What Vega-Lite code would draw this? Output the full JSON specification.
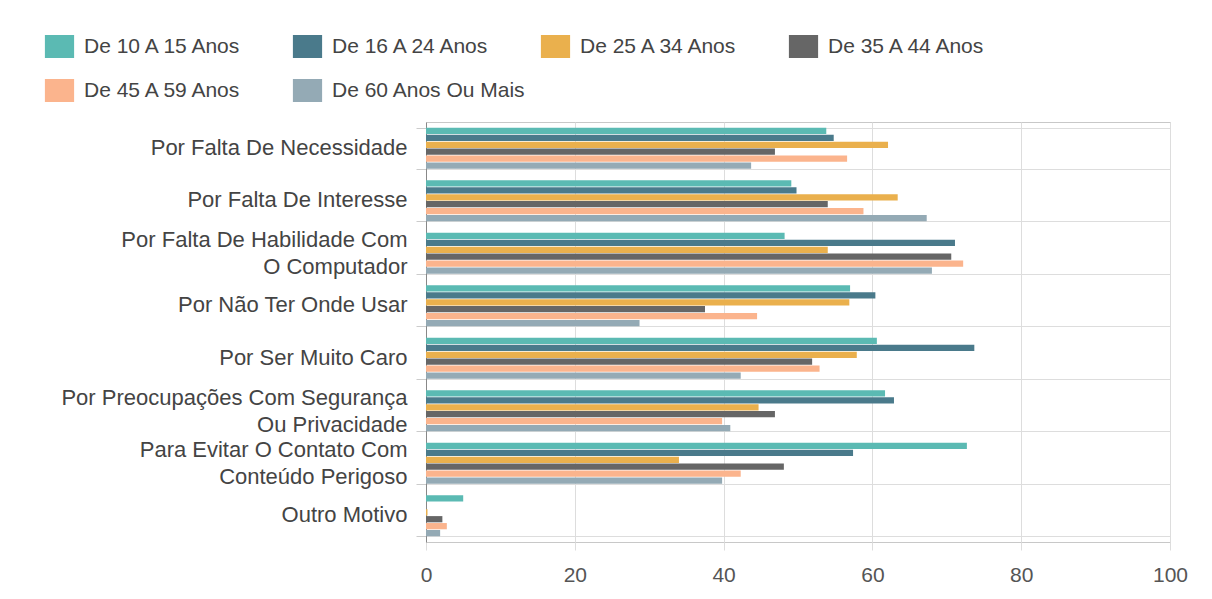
{
  "$schema": "https://vega.github.io/schema/vega-lite/v6.json",
  "width": 744,
  "height": 420,
  "autosize": {"type": "none"},
  "padding": {"left": 426, "top": 122, "right": 42, "bottom": 57},
  "background": "white",
  "config": {
    "font": "Liberation Sans",
    "view": {"stroke": "#c8c8c8"}
  },
  "data": {
    "values": [
      {"motivo": "Por Falta De Necessidade", "faixa": "De 10 A 15 Anos", "valor": 53.8},
      {"motivo": "Por Falta De Necessidade", "faixa": "De 16 A 24 Anos", "valor": 54.8},
      {"motivo": "Por Falta De Necessidade", "faixa": "De 25 A 34 Anos", "valor": 62.1},
      {"motivo": "Por Falta De Necessidade", "faixa": "De 35 A 44 Anos", "valor": 46.9},
      {"motivo": "Por Falta De Necessidade", "faixa": "De 45 A 59 Anos", "valor": 56.6},
      {"motivo": "Por Falta De Necessidade", "faixa": "De 60 Anos Ou Mais", "valor": 43.7},
      {"motivo": "Por Falta De Interesse", "faixa": "De 10 A 15 Anos", "valor": 49.1},
      {"motivo": "Por Falta De Interesse", "faixa": "De 16 A 24 Anos", "valor": 49.8},
      {"motivo": "Por Falta De Interesse", "faixa": "De 25 A 34 Anos", "valor": 63.4},
      {"motivo": "Por Falta De Interesse", "faixa": "De 35 A 44 Anos", "valor": 54.0},
      {"motivo": "Por Falta De Interesse", "faixa": "De 45 A 59 Anos", "valor": 58.8},
      {"motivo": "Por Falta De Interesse", "faixa": "De 60 Anos Ou Mais", "valor": 67.3},
      {"motivo": "Por Falta De Habilidade Com O Computador", "faixa": "De 10 A 15 Anos", "valor": 48.2},
      {"motivo": "Por Falta De Habilidade Com O Computador", "faixa": "De 16 A 24 Anos", "valor": 71.1},
      {"motivo": "Por Falta De Habilidade Com O Computador", "faixa": "De 25 A 34 Anos", "valor": 54.0},
      {"motivo": "Por Falta De Habilidade Com O Computador", "faixa": "De 35 A 44 Anos", "valor": 70.6},
      {"motivo": "Por Falta De Habilidade Com O Computador", "faixa": "De 45 A 59 Anos", "valor": 72.2},
      {"motivo": "Por Falta De Habilidade Com O Computador", "faixa": "De 60 Anos Ou Mais", "valor": 68.0},
      {"motivo": "Por Não Ter Onde Usar", "faixa": "De 10 A 15 Anos", "valor": 57.0},
      {"motivo": "Por Não Ter Onde Usar", "faixa": "De 16 A 24 Anos", "valor": 60.4},
      {"motivo": "Por Não Ter Onde Usar", "faixa": "De 25 A 34 Anos", "valor": 56.9},
      {"motivo": "Por Não Ter Onde Usar", "faixa": "De 35 A 44 Anos", "valor": 37.5},
      {"motivo": "Por Não Ter Onde Usar", "faixa": "De 45 A 59 Anos", "valor": 44.5},
      {"motivo": "Por Não Ter Onde Usar", "faixa": "De 60 Anos Ou Mais", "valor": 28.7},
      {"motivo": "Por Ser Muito Caro", "faixa": "De 10 A 15 Anos", "valor": 60.6},
      {"motivo": "Por Ser Muito Caro", "faixa": "De 16 A 24 Anos", "valor": 73.7},
      {"motivo": "Por Ser Muito Caro", "faixa": "De 25 A 34 Anos", "valor": 57.9},
      {"motivo": "Por Ser Muito Caro", "faixa": "De 35 A 44 Anos", "valor": 51.9},
      {"motivo": "Por Ser Muito Caro", "faixa": "De 45 A 59 Anos", "valor": 52.9},
      {"motivo": "Por Ser Muito Caro", "faixa": "De 60 Anos Ou Mais", "valor": 42.3},
      {"motivo": "Por Preocupações Com Segurança Ou Privacidade", "faixa": "De 10 A 15 Anos", "valor": 61.7},
      {"motivo": "Por Preocupações Com Segurança Ou Privacidade", "faixa": "De 16 A 24 Anos", "valor": 62.9},
      {"motivo": "Por Preocupações Com Segurança Ou Privacidade", "faixa": "De 25 A 34 Anos", "valor": 44.7},
      {"motivo": "Por Preocupações Com Segurança Ou Privacidade", "faixa": "De 35 A 44 Anos", "valor": 46.9},
      {"motivo": "Por Preocupações Com Segurança Ou Privacidade", "faixa": "De 45 A 59 Anos", "valor": 39.8},
      {"motivo": "Por Preocupações Com Segurança Ou Privacidade", "faixa": "De 60 Anos Ou Mais", "valor": 40.9},
      {"motivo": "Para Evitar O Contato Com Conteúdo Perigoso", "faixa": "De 10 A 15 Anos", "valor": 72.7},
      {"motivo": "Para Evitar O Contato Com Conteúdo Perigoso", "faixa": "De 16 A 24 Anos", "valor": 57.4},
      {"motivo": "Para Evitar O Contato Com Conteúdo Perigoso", "faixa": "De 25 A 34 Anos", "valor": 34.0},
      {"motivo": "Para Evitar O Contato Com Conteúdo Perigoso", "faixa": "De 35 A 44 Anos", "valor": 48.1},
      {"motivo": "Para Evitar O Contato Com Conteúdo Perigoso", "faixa": "De 45 A 59 Anos", "valor": 42.3},
      {"motivo": "Para Evitar O Contato Com Conteúdo Perigoso", "faixa": "De 60 Anos Ou Mais", "valor": 39.8},
      {"motivo": "Outro Motivo", "faixa": "De 10 A 15 Anos", "valor": 5.0},
      {"motivo": "Outro Motivo", "faixa": "De 16 A 24 Anos", "valor": 0.0},
      {"motivo": "Outro Motivo", "faixa": "De 25 A 34 Anos", "valor": 0.2},
      {"motivo": "Outro Motivo", "faixa": "De 35 A 44 Anos", "valor": 2.2},
      {"motivo": "Outro Motivo", "faixa": "De 45 A 59 Anos", "valor": 2.8},
      {"motivo": "Outro Motivo", "faixa": "De 60 Anos Ou Mais", "valor": 1.9}
    ]
  },
  "mark": {"type": "bar"},
  "encoding": {
    "y": {
      "field": "motivo",
      "type": "nominal",
      "sort": [
        "Por Falta De Necessidade",
        "Por Falta De Interesse",
        "Por Falta De Habilidade Com O Computador",
        "Por Não Ter Onde Usar",
        "Por Ser Muito Caro",
        "Por Preocupações Com Segurança Ou Privacidade",
        "Para Evitar O Contato Com Conteúdo Perigoso",
        "Outro Motivo"
      ],
      "scale": {"paddingInner": 0.22, "paddingOuter": 0.11},
      "axis": {
        "title": null,
        "tickBand": "extent",
        "grid": true,
        "gridColor": "#dddddd",
        "domainColor": "#888888",
        "tickColor": "#cccccc",
        "tickSize": 10,
        "labelFontSize": 22,
        "labelColor": "#444444",
        "labelPadding": 9,
        "labelLineHeight": 27,
        "labelLimit": 500,
        "labelOffset": {
          "condition": {
            "test": "datum.value == 'Por Falta De Habilidade Com O Computador' || datum.value == 'Por Preocupações Com Segurança Ou Privacidade' || datum.value == 'Para Evitar O Contato Com Conteúdo Perigoso'",
            "value": -13.5
          },
          "value": -1
        },
        "labelExpr": "datum.value == 'Por Falta De Habilidade Com O Computador' ? ['Por Falta De Habilidade Com', 'O Computador'] : datum.value == 'Por Preocupações Com Segurança Ou Privacidade' ? ['Por Preocupações Com Segurança', 'Ou Privacidade'] : datum.value == 'Para Evitar O Contato Com Conteúdo Perigoso' ? ['Para Evitar O Contato Com', 'Conteúdo Perigoso'] : datum.value"
      }
    },
    "yOffset": {
      "field": "faixa",
      "type": "nominal",
      "sort": ["De 10 A 15 Anos", "De 16 A 24 Anos", "De 25 A 34 Anos", "De 35 A 44 Anos", "De 45 A 59 Anos", "De 60 Anos Ou Mais"],
      "scale": {"paddingInner": 0.1}
    },
    "x": {
      "field": "valor",
      "type": "quantitative",
      "scale": {"domain": [0, 100], "nice": false},
      "axis": {
        "title": null,
        "values": [0, 20, 40, 60, 80, 100],
        "domain": false,
        "grid": true,
        "gridColor": "#dddddd",
        "tickColor": "#dddddd",
        "tickSize": 8,
        "labelFontSize": 21,
        "labelColor": "#555555",
        "labelPadding": 14,
        "labelFlush": false
      }
    },
    "color": {
      "field": "faixa",
      "type": "nominal",
      "scale": {
        "domain": ["De 10 A 15 Anos", "De 16 A 24 Anos", "De 25 A 34 Anos", "De 35 A 44 Anos", "De 45 A 59 Anos", "De 60 Anos Ou Mais"],
        "range": ["#5bbab3", "#4a7a8b", "#eab04d", "#666666", "#fbb48d", "#94aab5"]
      },
      "legend": {
        "title": null,
        "orient": "none",
        "legendX": -378,
        "legendY": -87,
        "direction": "horizontal",
        "columns": 4,
        "gridAlign": "all",
        "columnPadding": 14,
        "rowPadding": 21,
        "symbolType": "M-1.27,-1H1.27V1H-1.27Z",
        "symbolSize": 529,
        "symbolStrokeWidth": 0,
        "symbolOpacity": 1,
        "labelFontSize": 21,
        "labelColor": "#444444",
        "labelOffset": 13,
        "labelLimit": 400
      }
    }
  }
}
